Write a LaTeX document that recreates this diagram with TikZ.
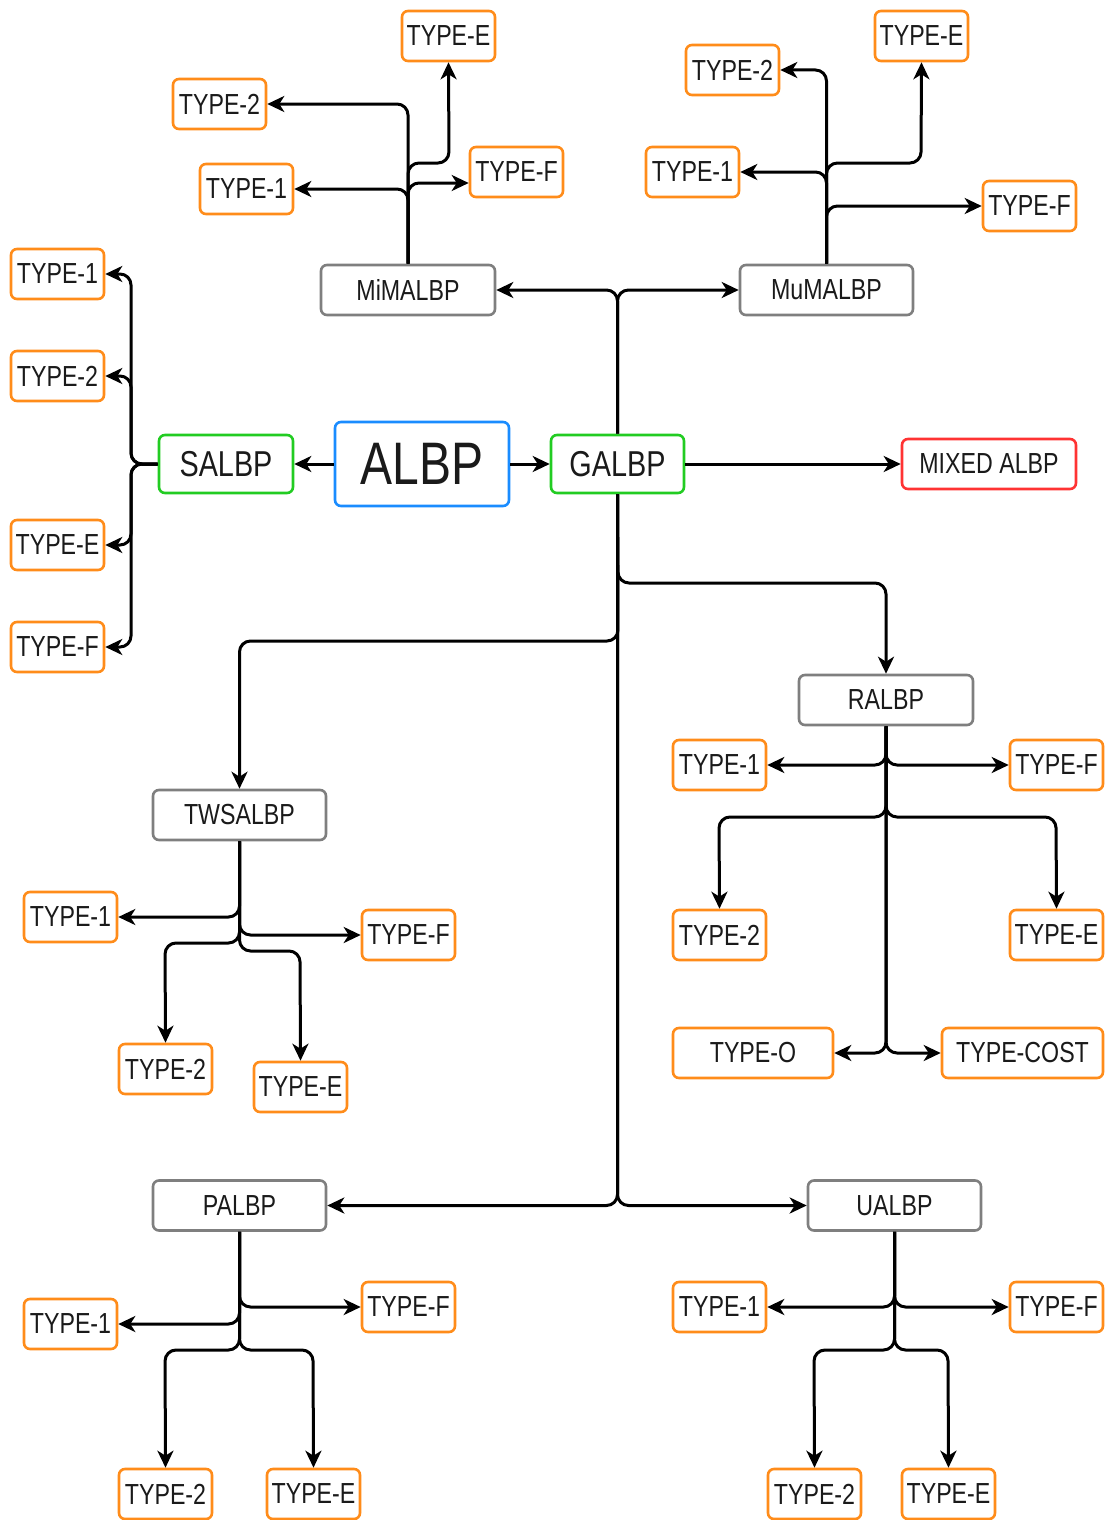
\documentclass[tikz,border=0pt]{standalone}
\usepackage{fontspec}
\usetikzlibrary{arrows.meta}
\newfontfamily\dfont[FakeStretch=0.8]{Liberation Sans}
\definecolor{cOrange}{HTML}{FF8C1A}
\definecolor{cGray}{HTML}{7F7F7F}
\definecolor{cGreen}{HTML}{22CC22}
\definecolor{cRed}{HTML}{FF3333}
\definecolor{cBlue}{HTML}{1A8CFF}
\definecolor{cText}{HTML}{1A1A1A}
\begin{document}
\begin{tikzpicture}[x=1pt,y=-1pt,
  box/.style={rectangle, rounded corners=6pt, line width=2.6pt, fill=white,
    inner sep=0pt, text=cText},
  tbox/.style={box, draw=cOrange, minimum width=93pt, minimum height=50pt,
    font=\dfont\fontsize{29}{30}\selectfont},
  gbox/.style={box, draw=cGray, minimum width=174pt, minimum height=50pt,
    font=\dfont\fontsize{29}{30}\selectfont},
  mbox/.style={box, draw=cGreen, minimum width=134pt, minimum height=58pt,
    font=\dfont\fontsize{36}{38}\selectfont},
  conn/.style={draw=black, line width=3pt, rounded corners=11pt,
    -{Stealth[length=17pt,width=16pt,inset=5pt]}}]
\useasboundingbox (0,0) rectangle (1105,1520);

% main row
\node[box, draw=cBlue, minimum width=174pt, minimum height=84pt,
  font=\dfont\fontsize{60}{62}\selectfont] (albp) at (422,464) {ALBP};
\node[mbox] (sal) at (226,464) {SALBP};
\node[mbox, minimum width=133pt] (gal) at (617.5,464) {GALBP};
\node[box, draw=cRed, minimum width=174pt, minimum height=50pt,
  font=\dfont\fontsize{29}{30}\selectfont] (mix) at (989,464) {MIXED ALBP};

% second level
\node[gbox] (mi) at (408,290) {MiMALBP};
\node[gbox, minimum width=173pt] (mu) at (826.5,290) {MuMALBP};
\node[gbox] (ral) at (886,700) {RALBP};
\node[gbox, minimum width=173pt] (tw) at (239.5,815) {TWSALBP};
\node[gbox, minimum width=173pt] (pal) at (239.5,1205.5) {PALBP};
\node[gbox, minimum width=173pt] (ual) at (894.5,1205.5) {UALBP};

% MiMALBP leaves
\node[tbox] (mE) at (448.5,36) {TYPE-E};
\node[tbox] (m2) at (219.5,104) {TYPE-2};
\node[tbox] (m1) at (246.5,189) {TYPE-1};
\node[tbox] (mF) at (516.5,172) {TYPE-F};
% MuMALBP leaves
\node[tbox] (uE) at (921.5,36) {TYPE-E};
\node[tbox] (u2) at (732.5,70) {TYPE-2};
\node[tbox] (u1) at (692.5,172) {TYPE-1};
\node[tbox] (uF) at (1029.5,206) {TYPE-F};
% SALBP leaves
\node[tbox] (s1) at (57.5,274) {TYPE-1};
\node[tbox] (s2) at (57.5,376) {TYPE-2};
\node[tbox] (sE) at (57.5,545) {TYPE-E};
\node[tbox] (sF) at (57.5,647) {TYPE-F};
% RALBP leaves
\node[tbox] (r1) at (719.5,765) {TYPE-1};
\node[tbox] (rF) at (1056.5,765) {TYPE-F};
\node[tbox] (r2) at (719.5,935) {TYPE-2};
\node[tbox] (rE) at (1056.5,935) {TYPE-E};
\node[tbox, minimum width=160pt] (rO) at (753,1053) {TYPE-O};
\node[tbox, minimum width=161pt] (rC) at (1022.5,1053) {TYPE-COST};
% TWSALBP leaves
\node[tbox] (t1) at (70.5,917) {TYPE-1};
\node[tbox] (tF) at (408.5,935) {TYPE-F};
\node[tbox] (t2) at (165.5,1069) {TYPE-2};
\node[tbox] (tE) at (300.5,1087) {TYPE-E};
% PALBP leaves
\node[tbox] (p1) at (70.5,1324) {TYPE-1};
\node[tbox] (pF) at (408.5,1307) {TYPE-F};
\node[tbox] (p2) at (165.5,1494) {TYPE-2};
\node[tbox] (pE) at (313.5,1494) {TYPE-E};
% UALBP leaves
\node[tbox] (a1) at (719.5,1307) {TYPE-1};
\node[tbox] (aF) at (1056.5,1307) {TYPE-F};
\node[tbox] (a2) at (814.5,1494) {TYPE-2};
\node[tbox] (aE) at (948.5,1494) {TYPE-E};

% bend points
\coordinate (jS) at (131,464);
\coordinate (kmE) at (449,163);
\coordinate (kmF) at (408,183);
\coordinate (kuE) at (921,163);
\coordinate (jR) at (618,583);
\coordinate (jT) at (618,641);
\coordinate (kr2) at (719,817);
\coordinate (krE) at (1056,817);
\coordinate (kt2) at (165,943);
\coordinate (ktE) at (300,951);
\coordinate (kp2) at (165,1350);
\coordinate (kpE) at (313,1350);
\coordinate (ka2) at (814,1350);
\coordinate (kaE) at (948,1350);

% main row connectors
\draw[conn] (albp) -- (sal);
\draw[conn] (albp) -- (gal);
\draw[conn] (gal) -- (mix);

% GALBP branches
\draw[conn] (gal.north) |- (mi.east);
\draw[conn] (gal.north) |- (mu.west);
\draw[conn] (gal.south) -- (jR) -| (ral.north);
\draw[conn] (gal.south) -- (jT) -| (tw.north);
\draw[conn] (gal.south) |- (pal.east);
\draw[conn] (gal.south) |- (ual.west);

% SALBP branches
\draw[conn] (sal.west) -- (jS) |- (s1.east);
\draw[conn] (sal.west) -- (jS) |- (s2.east);
\draw[conn] (sal.west) -- (jS) |- (sE.east);
\draw[conn] (sal.west) -- (jS) |- (sF.east);

% MiMALBP branches
\draw[conn] (mi.north) |- (m2.east);
\draw[conn] (mi.north) |- (m1.east);
\draw[conn] (mi.north) -- (kmF) -- (kmF -| mF.west);
\draw[conn] (mi.north) |- (kmE) -- (mE.south);

% MuMALBP branches
\draw[conn] (mu.north) |- (u2.east);
\draw[conn] (mu.north) |- (u1.east);
\draw[conn] (mu.north) |- (kuE) -- (uE.south);
\draw[conn] (mu.north) |- (uF.west);

% RALBP branches
\draw[conn] (ral.south) |- (r1.east);
\draw[conn] (ral.south) |- (rF.west);
\draw[conn] (ral.south) |- (kr2) -- (r2.north);
\draw[conn] (ral.south) |- (krE) -- (rE.north);
\draw[conn] (ral.south) |- (rO.east);
\draw[conn] (ral.south) |- (rC.west);

% TWSALBP branches
\draw[conn] (tw.south) |- (t1.east);
\draw[conn] (tw.south) |- (tF.west);
\draw[conn] (tw.south) |- (kt2) -- (t2.north);
\draw[conn] (tw.south) |- (ktE) -- (tE.north);

% PALBP branches
\draw[conn] (pal.south) |- (pF.west);
\draw[conn] (pal.south) |- (p1.east);
\draw[conn] (pal.south) |- (kp2) -- (p2.north);
\draw[conn] (pal.south) |- (kpE) -- (pE.north);

% UALBP branches
\draw[conn] (ual.south) |- (a1.east);
\draw[conn] (ual.south) |- (aF.west);
\draw[conn] (ual.south) |- (ka2) -- (a2.north);
\draw[conn] (ual.south) |- (kaE) -- (aE.north);
\end{tikzpicture}
\end{document}
